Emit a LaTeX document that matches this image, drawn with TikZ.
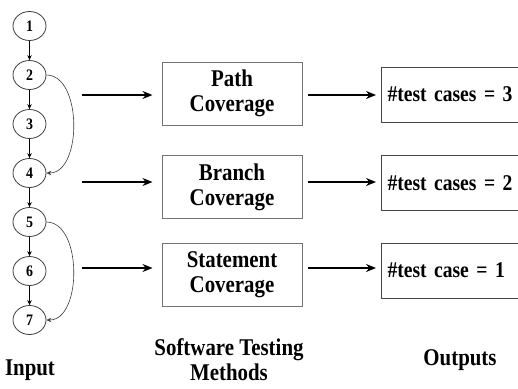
\documentclass[tikz,border=0pt]{standalone}
\usepackage{fontspec}
\setmainfont{Liberation Serif}[FakeStretch=0.87]
\usetikzlibrary{shapes.geometric,arrows.meta}
\definecolor{boxgray}{RGB}{115,115,115}
\definecolor{outgray}{RGB}{70,70,70}
\definecolor{circgray}{RGB}{60,60,60}
\tikzset{
  cnode/.style={ellipse,draw=circgray,line width=0.8pt,minimum width=33pt,minimum height=29pt,inner sep=0pt,
    font=\fontsize{16}{18}\selectfont\bfseries},
  flow/.style={line width=0.8pt,-{Stealth[length=5pt,width=4.5pt]}},
  loopar/.style={line width=0.6pt,draw=circgray,-{Stealth[length=5pt,width=4.5pt]}},
  mbox/.style={draw=boxgray,line width=1pt,minimum width=140pt,minimum height=63pt,align=center,
    font=\fontsize{24}{24.7}\selectfont\bfseries},
  obox/.style={draw=outgray,line width=1pt,anchor=west,minimum height=55pt,text width=146pt,inner xsep=6pt,
    align=left,font=\fontsize{22.5}{24}\selectfont\bfseries},
  bigarr/.style={line width=1.8pt,-{Stealth[length=10pt,width=8pt]}},
  lab/.style={align=center,font=\fontsize{24}{25}\selectfont\bfseries}
}
\begin{document}
\begin{tikzpicture}[x=1pt,y=-1pt]
\useasboundingbox (0,0) rectangle (518,388);
\clip (0,0) rectangle (518,388);
% graph nodes
\node[cnode] (c1) at (29.5,26) {1};
\node[cnode] (c2) at (29.5,75) {2};
\node[cnode] (c3) at (29.5,124) {3};
\node[cnode] (c4) at (29.5,173) {4};
\node[cnode] (c5) at (29.5,222) {5};
\node[cnode] (c6) at (29.5,271) {6};
\node[cnode] (c7) at (29.5,320) {7};
\foreach \a/\b in {c1/c2,c2/c3,c3/c4,c4/c5,c5/c6,c6/c7}
  \draw[flow] (\a.south) -- (\b.north);
\draw[loopar] (c2.east) .. controls +(36,0) and +(36,0) .. (c4.east);
\draw[loopar] (c5.east) .. controls +(36,0) and +(36,0) .. (c7.east);
% method boxes
\node[mbox] (m1) at (232,93.5) {Path\\Coverage};
\node[mbox] (m2) at (232,187) {Branch\\Coverage};
\node[mbox] (m3) at (232,274.5) {Statement\\Coverage};
% output boxes
\node[obox] (o1) at (381,94.5) {\#test cases = 3};
\node[obox] (o2) at (381,183) {\#test cases = 2};
\node[obox] (o3) at (381,270.5) {\#test case = 1};
% input arrows
\coordinate (i1) at (82,95);
\coordinate (i2) at (82,182);
\coordinate (i3) at (82,268);
\draw[bigarr,shorten >=9pt] (i1) -- (i1 -| m1.west);
\draw[bigarr,shorten >=9pt] (i2) -- (i2 -| m2.west);
\draw[bigarr,shorten >=9pt] (i3) -- (i3 -| m3.west);
% middle arrows
\draw[bigarr,shorten <=5pt,shorten >=5pt] (m1.east |- 0,95) -- (o1.west |- 0,95);
\draw[bigarr,shorten <=5pt,shorten >=5pt] (m2.east |- 0,182) -- (o2.west |- 0,182);
\draw[bigarr,shorten <=5pt,shorten >=5pt] (m3.east |- 0,268) -- (o3.west |- 0,268);
% labels
\node[lab,anchor=base] (li) at (30,375) {Input};
\node[lab,anchor=base] (lm) at (229,380) {Software Testing\\Methods};
\node[lab,anchor=base] (lo) at (460,365) {Outputs};
\end{tikzpicture}
\end{document}
